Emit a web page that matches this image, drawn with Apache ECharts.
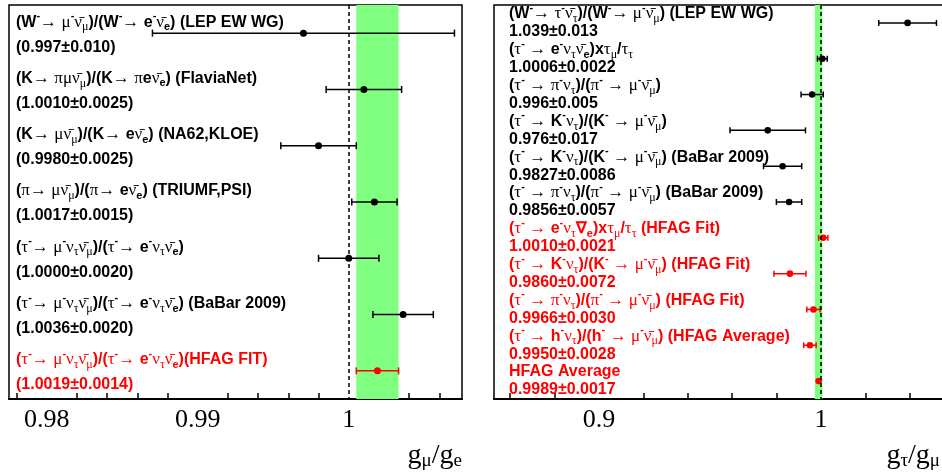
<!DOCTYPE html>
<html>
<head>
<meta charset="utf-8">
<script src="https://cdn.jsdelivr.net/npm/echarts@6/dist/echarts.min.js"></script>
<style>
  html, body { margin: 0; padding: 0; background: #fff; }
  #chart { width: 942px; height: 472px; }
</style>
</head>
<body>
<div id="chart"></div>
<script>
// left panel: g_mu / g_e
const muLines = [
  '(W^{-}→ μ^{-}ν̄_{μ})/(W^{-}→ e^{-}ν̄_{e}) (LEP EW WG)',
  '(K→ πμν̄_{μ})/(K→ πeν̄_{e}) (FlaviaNet)',
  '(K→ μν̄_{μ})/(K→ eν̄_{e}) (NA62,KLOE)',
  '(π→ μν̄_{μ})/(π→ eν̄_{e}) (TRIUMF,PSI)',
  '(τ^{-}→ μ^{-}ν_{τ}ν̄_{μ})/(τ^{-}→ e^{-}ν_{τ}ν̄_{e})',
  '(τ^{-}→ μ^{-}ν_{τ}ν̄_{μ})/(τ^{-}→ e^{-}ν_{τ}ν̄_{e}) (BaBar 2009)',
  '(τ^{-}→ μ^{-}ν_{τ}ν̄_{μ})/(τ^{-}→ e^{-}ν_{τ}ν̄_{e})(HFAG FIT)'
]
const muTexts = ['(0.997±0.010)', '(1.0010±0.0025)', '(0.9980±0.0025)', '(1.0017±0.0015)',
  '(1.0000±0.0020)', '(1.0036±0.0020)', '(1.0019±0.0014)']
const muValues = [0.997, 1.0010, 0.9980, 1.0017, 1.0000, 1.0036, 1.0019]
const muErrors = [0.010, 0.0025, 0.0025, 0.0015, 0.0020, 0.0020, 0.0014]
const muColors = ['#000', '#000', '#000', '#000', '#000', '#000', '#f00']
const muBand = [1.0005, 1.0033]

// right panel: g_tau / g_mu
const tauLines = [
  '(W^{-}→ τ^{-}ν̄_{τ})/(W^{-}→ μ^{-}ν̄_{μ}) (LEP EW WG)',
  '(τ^{-} → e^{-}ν_{τ}ν̄_{e})xτ_{μ}/τ_{τ}',
  '(τ^{-} → π^{-}ν_{τ})/(π^{-} → μ^{-}ν̄_{μ})',
  '(τ^{-} → K^{-}ν_{τ})/(K^{-} → μ^{-}ν̄_{μ})',
  '(τ^{-} → K^{-}ν_{τ})/(K^{-} → μ^{-}ν̄_{μ}) (BaBar 2009)',
  '(τ^{-} → π^{-}ν_{τ})/(π^{-} → μ^{-}ν̄_{μ}) (BaBar 2009)',
  '(τ^{-} → e^{-}ν_{τ}∇_{e})xτ_{μ}/τ_{τ} (HFAG Fit)',
  '(τ^{-} → K^{-}ν_{τ})/(K^{-} → μ^{-}ν̄_{μ}) (HFAG Fit)',
  '(τ^{-} → π^{-}ν_{τ})/(π^{-} → μ^{-}ν̄_{μ}) (HFAG Fit)',
  '(τ^{-} → h^{-}ν_{τ})/(h^{-} → μ^{-}ν̄_{μ}) (HFAG Average)',
  'HFAG Average'
]
const tauTexts = ['1.039±0.013', '1.0006±0.0022', '0.996±0.005', '0.976±0.017', '0.9827±0.0086',
  '0.9856±0.0057', '1.0010±0.0021', '0.9860±0.0072', '0.9966±0.0030', '0.9950±0.0028', '0.9989±0.0017']
const tauValues = [1.039, 1.0006, 0.996, 0.976, 0.9827, 0.9856, 1.0010, 0.9860, 0.9966, 0.9950, 0.9989]
const tauErrors = [0.013, 0.0022, 0.005, 0.017, 0.0086, 0.0057, 0.0021, 0.0072, 0.0030, 0.0028, 0.0017]
const tauColors = ['#000', '#000', '#000', '#000', '#000', '#000', '#f00', '#f00', '#f00', '#f00', '#f00']
const tauBand = [0.9972, 1.0006]

const SANS = 'Liberation Sans, Arial, sans-serif'
const SERIF = 'Liberation Serif, DejaVu Serif, serif'
const GREEK = /[\u0370-\u03ff\u0304→]/

// turn the small ^{} _{} markup into echarts rich text
function runs (t, pos) {
  let out = ''
  let cur = ''
  let curG = null
  for (const ch of t) {
    const g = GREEK.test(ch)
    if (curG !== null && g !== curG) {
      out += '{' + (curG ? 'g' : 'b') + pos + '|' + cur + '}'
      cur = ''
    }
    curG = g
    cur += ch
  }
  if (cur) out += '{' + (curG ? 'g' : 'b') + pos + '|' + cur + '}'
  return out
}
function toRich (s) {
  let out = ''
  let i = 0
  while (i < s.length) {
    if ((s[i] === '_' || s[i] === '^') && s[i + 1] === '{') {
      const j = s.indexOf('}', i)
      out += runs(s.slice(i + 2, j), s[i] === '_' ? 'sub' : 'sup')
      i = j + 1
    } else {
      let j = i
      while (j < s.length && !((s[j] === '_' || s[j] === '^') && s[j + 1] === '{')) j++
      out += runs(s.slice(i, j), '')
      i = j
    }
  }
  return out
}
function richFor (color) {
  return {
    b: { fontFamily: SANS, fontWeight: 'bold', fontSize: 16, fill: color },
    g: { fontFamily: SERIF, fontSize: 17, fill: color },
    bsub: { fontFamily: SANS, fontWeight: 'bold', fontSize: 11, fill: color, padding: [10, 0, 0, 0] },
    gsub: { fontFamily: SERIF, fontSize: 12, fill: color, padding: [10, 0, 0, 0] },
    bsup: { fontFamily: SANS, fontWeight: 'bold', fontSize: 11, fill: color, padding: [0, 0, 12, 0] },
    gsup: { fontFamily: SERIF, fontSize: 12, fill: color, padding: [0, 0, 12, 0] }
  }
}

function errorBars (lines, texts, colors, xmin, opt) {
  return function (params, api) {
    const i = params.dataIndex
    const v = api.value(0)
    const e = api.value(1)
    const c = api.value(2)
    const color = colors[i]
    const p = api.coord([v, c])
    const lo = api.coord([v - e, c])[0]
    const hi = api.coord([v + e, c])[0]
    const left = api.coord([xmin, c])[0] + opt.dx
    const ln = { stroke: color, lineWidth: 1.5 }
    const children = []
    // like ROOT, bars hidden under the marker are not drawn
    if (hi - p[0] > opt.r + 1) {
      children.push(
        { type: 'line', shape: { x1: lo, y1: p[1], x2: hi, y2: p[1] }, style: ln },
        { type: 'line', shape: { x1: lo, y1: p[1] - opt.cap, x2: lo, y2: p[1] + opt.cap }, style: ln },
        { type: 'line', shape: { x1: hi, y1: p[1] - opt.cap, x2: hi, y2: p[1] + opt.cap }, style: ln }
      )
    }
    children.push(
      { type: 'circle', shape: { cx: p[0], cy: p[1], r: opt.r }, style: { fill: color } },
      {
        type: 'text',
        style: { x: left, y: p[1] + opt.dy1, text: toRich(lines[i]), rich: richFor(color), fill: color, align: 'left', verticalAlign: 'middle' }
      },
      {
        type: 'text',
        style: { x: left, y: p[1] + opt.dy2, text: toRich(texts[i]), rich: richFor(color), fill: color, align: 'left', verticalAlign: 'middle' }
      }
    )
    return { type: 'group', children: children }
  }
}

function xAxisFor (grid, min, max, split, step, name, pad) {
  return {
    gridIndex: grid,
    type: 'value',
    min: min,
    max: max,
    splitNumber: split,
    name: name,
    nameLocation: 'end',
    nameGap: 0,
    nameTextStyle: {
      align: 'right',
      verticalAlign: 'top',
      padding: pad,
      rich: {
        g: { fontFamily: SERIF, fontSize: 28, color: '#000' },
        s: { fontFamily: SERIF, fontSize: 19, color: '#000', padding: [12, 0, 0, 0] }
      }
    },
    axisLine: { show: true, onZero: false, lineStyle: { color: '#000', width: 2 } },
    axisTick: { inside: true, length: 11, lineStyle: { color: '#000', width: 1.5 } },
    minorTick: { show: true, splitNumber: 5, length: 6, lineStyle: { color: '#000', width: 1.5 } },
    splitLine: { show: false },
    axisLabel: {
      margin: 8,
      fontFamily: SERIF,
      fontSize: 26,
      color: '#000',
      formatter: function (v) {
        const k = v / step
        return Math.abs(k - Math.round(k)) < 1e-6 ? String(+v.toFixed(4)) : ''
      }
    }
  }
}

function bandSeries (grid, band) {
  return [
    {
      type: 'scatter',
      xAxisIndex: grid,
      yAxisIndex: grid,
      data: [],
      z: 1,
      silent: true,
      markArea: { silent: true, itemStyle: { color: '#80ff80' }, data: [[{ xAxis: band[0] }, { xAxis: band[1] }]] }
    },
    {
      type: 'scatter',
      xAxisIndex: grid,
      yAxisIndex: grid,
      data: [],
      z: 2,
      silent: true,
      markLine: {
        silent: true,
        symbol: 'none',
        label: { show: false },
        lineStyle: { color: '#000', type: [4, 3], width: 1.5 },
        data: [{ xAxis: 1 }]
      }
    }
  ]
}

const chart = echarts.init(document.getElementById('chart'))
const option = {
  animation: false,
  grid: [
    { left: 9, top: 5, width: 453, height: 394, outerBoundsMode: 'none', show: true, borderColor: '#000', borderWidth: 1.5 },
    { left: 494, top: 5, width: 468, height: 394, outerBoundsMode: 'none', show: true, borderColor: '#000', borderWidth: 1.5 }
  ],
  xAxis: [
    xAxisFor(0, 0.9775, 1.0075, 3, 0.01, '{g|g}{s|μ}{g|/g}{s|e}', [41, 0, 0, 0]),
    xAxisFor(1, 0.8527, 1.0635, 2, 0.1, '{g|g}{s|τ}{g|/g}{s|μ}', [41, 22, 0, 0])
  ],
  yAxis: [
    { gridIndex: 0, type: 'category', inverse: true, show: false, data: muLines },
    { gridIndex: 1, type: 'category', inverse: true, show: false, data: tauLines }
  ],
  series: [
    ...bandSeries(0, muBand),
    ...bandSeries(1, tauBand),
    {
      type: 'custom',
      xAxisIndex: 0,
      yAxisIndex: 0,
      z: 3,
      encode: { x: 0, y: 2 },
      renderItem: errorBars(muLines, muTexts, muColors, 0.9775, { dx: 7, dy1: -11, dy2: 14, cap: 3.5, r: 3.5 }),
      data: muValues.map((v, i) => [v, muErrors[i], i])
    },
    {
      type: 'custom',
      xAxisIndex: 1,
      yAxisIndex: 1,
      z: 3,
      encode: { x: 0, y: 2 },
      renderItem: errorBars(tauLines, tauTexts, tauColors, 0.8527, { dx: 15, dy1: -9, dy2: 9, cap: 3, r: 3.3 }),
      data: tauValues.map((v, i) => [v, tauErrors[i], i])
    }
  ]
}
chart.setOption(option)
</script>
</body>
</html>
